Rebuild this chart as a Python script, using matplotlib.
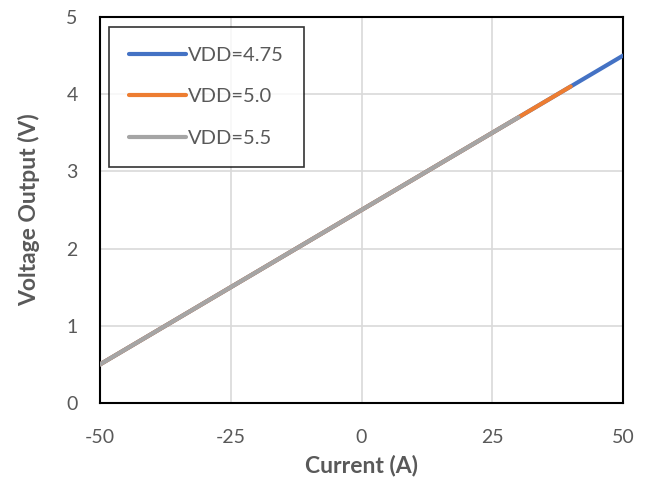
import matplotlib
matplotlib.use("Agg")
import matplotlib.pyplot as plt

plt.rcParams['font.family'] = ['Lato', 'DejaVu Sans']
plt.rcParams['axes.unicode_minus'] = False

# Data
current_475 = [-50, -25, 0, 25, 50]
vout_475 = [0.5, 1.5, 2.5, 3.5, 4.5]
current_50 = [-50, -25, 0, 25, 40]
vout_50 = [0.5, 1.5, 2.5, 3.5, 4.1]
current_55 = [-50, -25, 0, 25, 30]
vout_55 = [0.5, 1.5, 2.5, 3.5, 3.7]
labels = ["VDD=4.75", "VDD=5.0", "VDD=5.5"]
xticks = [-50, -25, 0, 25, 50]
yticks = [0, 1, 2, 3, 4, 5]

fig = plt.figure(figsize=(6.49, 4.8), dpi=100)
ax = fig.add_axes([100/649, 1-403/480, (623-100)/649, (403-17)/480])

tc = '#595959'
ax.plot(current_475, vout_475, color='#4472C4', lw=3, solid_capstyle='round', label=labels[0], zorder=3)
ax.plot(current_50, vout_50, color='#ED7D31', lw=3, solid_capstyle='round', label=labels[1], zorder=4)
ax.plot(current_55, vout_55, color='#A5A5A5', lw=3, solid_capstyle='round', label=labels[2], zorder=5)

ax.set_xlim(-50, 50)
ax.set_ylim(0, 5)
ax.set_xticks(xticks)
ax.set_yticks(yticks)
ax.grid(True, color='#D9D9D9', lw=1.2, zorder=0)
ax.set_axisbelow(True)
for s in ax.spines.values():
    s.set_color('black')
    s.set_linewidth(1.5)
ax.tick_params(length=0, labelsize=14, labelcolor=tc)
ax.tick_params(axis='x', pad=19)
ax.tick_params(axis='y', pad=16)
ax.set_xlabel('Current (A)', fontsize=16.5, fontweight='bold', color=tc, labelpad=6)
ax.set_ylabel('Voltage Output (V)', fontsize=16.5, fontweight='bold', color=tc, labelpad=19)

leg = ax.legend(loc='upper left', bbox_to_anchor=(9/523, 1-10/386), fontsize=14.5,
                frameon=True, fancybox=False, edgecolor='black', handlelength=2.8,
                handletextpad=0.1, labelspacing=1.2, borderpad=1.0, borderaxespad=0)
leg.get_frame().set_linewidth(1.2)
for t in leg.get_texts():
    t.set_color(tc)

fig.savefig('out.png', dpi=100)
